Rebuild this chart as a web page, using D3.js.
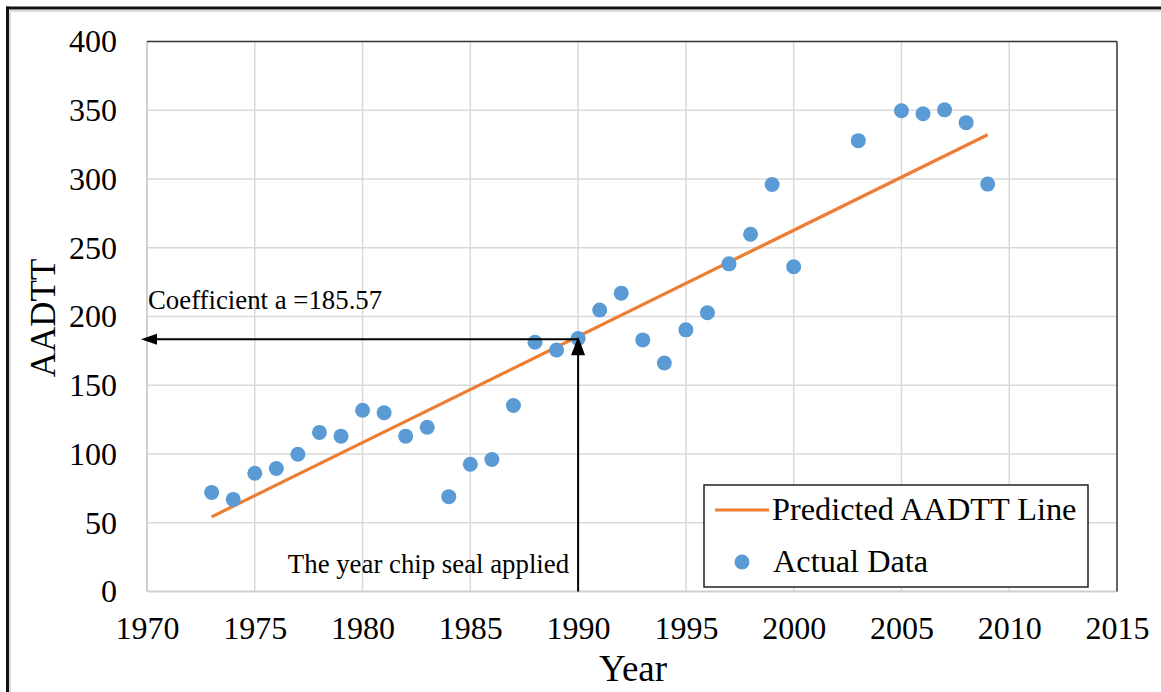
<!DOCTYPE html>
<html>
<head>
<meta charset="utf-8">
<script src="https://cdn.jsdelivr.net/npm/d3@7"></script>
<style>
  body { margin: 0; background: #fff; }
  text { font-family: "Liberation Serif", "Times New Roman", serif; fill: #000; }
</style>
</head>
<body>
<script>
// observed AADTT by year
var years = [1973, 1974, 1975, 1976, 1977, 1978, 1979, 1980, 1981, 1982, 1983, 1984,
  1985, 1986, 1987, 1988, 1989, 1990, 1991, 1992, 1993, 1994, 1995, 1996, 1997,
  1998, 1999, 2000, 2003, 2005, 2006, 2007, 2008, 2009];
var aadtt = [72, 67, 86, 89.5, 99.8, 115.7, 113, 131.8, 130, 113, 119.5, 69,
  92.5, 96, 135.3, 181.3, 175.6, 184, 204.7, 217, 183, 166.2, 190.3, 202.7, 238.3,
  259.8, 296, 236.2, 327.9, 349.6, 347.5, 350.3, 341, 296.3];

// predicted line end points
var predYears = [1973, 2009];
var predValues = [54.3, 332.2];

var xTicks = [1970, 1975, 1980, 1985, 1990, 1995, 2000, 2005, 2010, 2015];
var yTicks = [0, 50, 100, 150, 200, 250, 300, 350, 400];

var chipYear = 1990;
var coefA = 185.57;

window.onload = function() {
    var svg = d3.select("body")
        .append("svg")
        .attr("width", 1161)
        .attr("height", 692);

    var x = d3.scaleLinear().domain([1970, 2015]).range([147, 1117]);
    var y = d3.scaleLinear().domain([0, 400]).range([591.5, 41.5]);

    // image frame (only top and left edges are visible)
    svg.append("line").attr("x1", 10).attr("x2", 1161).attr("y1", 11).attr("y2", 11)
        .style("stroke", "#d0d0d0").style("stroke-width", 1.5);
    svg.append("line").attr("x1", 10).attr("x2", 10).attr("y1", 11).attr("y2", 692)
        .style("stroke", "#d0d0d0").style("stroke-width", 1.5);
    svg.append("line").attr("x1", 6.5).attr("x2", 1161).attr("y1", 8).attr("y2", 8)
        .style("stroke", "#111").style("stroke-width", 3);
    svg.append("line").attr("x1", 7.5).attr("x2", 7.5).attr("y1", 6.5).attr("y2", 692)
        .style("stroke", "#111").style("stroke-width", 3);

    // gridlines
    svg.selectAll(".vgrid")
        .data(xTicks.slice(1, -1))
        .enter().append("line")
        .attr("class", "vgrid")
        .attr("x1", function(d) { return x(d); })
        .attr("x2", function(d) { return x(d); })
        .attr("y1", y(0)).attr("y2", y(400))
        .style("stroke", "#d9d9d9").style("stroke-width", 1.5);
    svg.selectAll(".hgrid")
        .data(yTicks.slice(1, -1))
        .enter().append("line")
        .attr("class", "hgrid")
        .attr("x1", x(1970)).attr("x2", x(2015))
        .attr("y1", function(d) { return y(d); })
        .attr("y2", function(d) { return y(d); })
        .style("stroke", "#d9d9d9").style("stroke-width", 1.5);

    // plot frame: light on left/bottom, dark on top/right
    svg.append("line").attr("x1", x(1970)).attr("x2", x(1970)).attr("y1", y(0)).attr("y2", y(400))
        .style("stroke", "#cfcfcf").style("stroke-width", 2);
    svg.append("line").attr("x1", x(1970)).attr("x2", x(2015)).attr("y1", y(0)).attr("y2", y(0))
        .style("stroke", "#cfcfcf").style("stroke-width", 2);
    svg.append("line").attr("x1", x(1970)).attr("x2", x(2015)).attr("y1", y(400)).attr("y2", y(400))
        .style("stroke", "#333").style("stroke-width", 1.5);
    svg.append("line").attr("x1", x(2015)).attr("x2", x(2015)).attr("y1", y(400)).attr("y2", y(0))
        .style("stroke", "#333").style("stroke-width", 1.5);

    // axes (labels only)
    var xAxis = svg.append("g")
        .attr("transform", "translate(0," + y(0) + ")")
        .call(d3.axisBottom(x).tickValues(xTicks).tickFormat(d3.format("d")).tickSize(0).tickPadding(25));
    var yAxis = svg.append("g")
        .attr("transform", "translate(" + x(1970) + ",0)")
        .call(d3.axisLeft(y).tickValues(yTicks).tickSize(0).tickPadding(30));
    [xAxis, yAxis].forEach(function(g) {
        g.select(".domain").remove();
        g.selectAll("text")
            .style("font-family", "'Liberation Serif', 'Times New Roman', serif")
            .style("font-size", "32px")
            .style("fill", "#000");
    });

    // axis titles
    svg.append("text")
        .attr("x", 633).attr("y", 681)
        .attr("text-anchor", "middle")
        .style("font-size", "37px")
        .text("Year");
    svg.append("text")
        .attr("transform", "translate(55,318) rotate(-90)")
        .attr("text-anchor", "middle")
        .style("font-size", "35px")
        .text("AADTT");

    // predicted line
    var line = d3.line()
        .x(function(d) { return x(d[0]); })
        .y(function(d) { return y(d[1]); });
    svg.append("path")
        .datum(d3.zip(predYears, predValues))
        .attr("d", line)
        .style("fill", "none")
        .style("stroke", "#ed7d31")
        .style("stroke-width", 3.2);

    // actual data
    svg.selectAll(".dot")
        .data(d3.zip(years, aadtt))
        .enter().append("circle")
        .attr("class", "dot")
        .attr("cx", function(d) { return x(d[0]); })
        .attr("cy", function(d) { return y(d[1]); })
        .attr("r", 7.5)
        .style("fill", "#5b9bd5");

    // annotation arrows
    var ax = x(chipYear);
    var ay = y(coefA) + 3;
    svg.append("line")
        .attr("x1", ax).attr("x2", x(1970) - 2)
        .attr("y1", ay).attr("y2", ay)
        .style("stroke", "#000").style("stroke-width", 2);
    svg.append("path")
        .attr("d", "M" + (x(1970) - 6) + "," + ay + " L" + (x(1970) + 10) + "," + (ay - 5.5) +
            " L" + (x(1970) + 10) + "," + (ay + 5.5) + "Z")
        .style("fill", "#000");
    svg.append("line")
        .attr("x1", ax).attr("x2", ax)
        .attr("y1", y(0)).attr("y2", ay + 12)
        .style("stroke", "#000").style("stroke-width", 2);
    svg.append("path")
        .attr("d", "M" + ax + "," + (ay - 2.5) + " L" + (ax - 7) + "," + (ay + 16) +
            " L" + (ax + 7) + "," + (ay + 16) + "Z")
        .style("fill", "#000");

    svg.append("text")
        .attr("x", x(1970) + 1).attr("y", 309)
        .style("font-size", "26.8px")
        .text("Coefficient a =" + coefA);
    svg.append("text")
        .attr("x", ax - 9).attr("y", 573)
        .attr("text-anchor", "end")
        .style("font-size", "26.8px")
        .text("The year chip seal applied");

    // legend
    var legend = svg.append("g");
    legend.append("rect")
        .attr("x", 704).attr("y", 485)
        .attr("width", 384).attr("height", 102)
        .style("fill", "#fff")
        .style("stroke", "#222").style("stroke-width", 1.5);
    legend.append("line")
        .attr("x1", 715).attr("x2", 769).attr("y1", 510).attr("y2", 510)
        .style("stroke", "#ed7d31").style("stroke-width", 3.2);
    legend.append("text")
        .attr("x", 772).attr("y", 520)
        .style("font-size", "32.3px")
        .text("Predicted AADTT Line");
    legend.append("circle")
        .attr("cx", 742).attr("cy", 562).attr("r", 7.5)
        .style("fill", "#5b9bd5");
    legend.append("text")
        .attr("x", 773).attr("y", 572)
        .style("font-size", "32.3px")
        .text("Actual Data");
};
</script>
</body>
</html>
